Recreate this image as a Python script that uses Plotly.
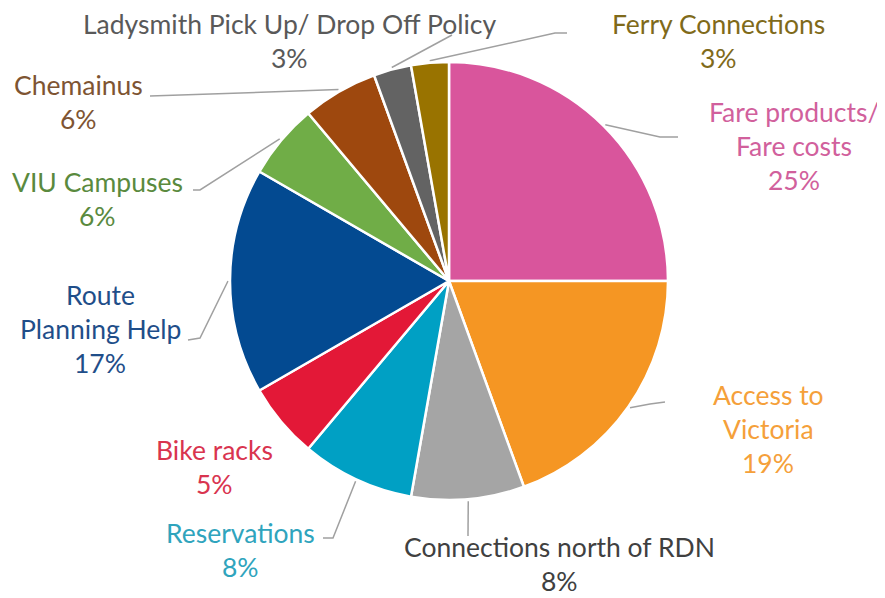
import numpy as np
import plotly.graph_objects as go

# survey topics, clockwise from 12 o'clock
topics = ["Fare products/ Fare costs", "Access to Victoria", "Connections north of RDN",
          "Reservations", "Bike racks", "Route Planning Help", "VIU Campuses",
          "Chemainus", "Ladysmith Pick Up/ Drop Off Policy", "Ferry Connections"]
responses = [9, 7, 3, 3, 2, 6, 2, 2, 1, 1]
pct_labels = ["25%", "19%", "8%", "8%", "5%", "17%", "6%", "6%", "3%", "3%"]
# how the labels wrap on the chart
label_lines = ["Fare products/\nFare costs", "Access to\nVictoria", "Connections north of RDN",
               "Reservations", "Bike racks", "Route\nPlanning Help", "VIU Campuses",
               "Chemainus", "Ladysmith Pick Up/ Drop Off Policy", "Ferry Connections"]

slice_colors = ["#D9559C", "#F59623", "#A5A5A5", "#00A0C4", "#E31837",
                "#034A91", "#70AD47", "#9E480E", "#636363", "#997300"]
text_colors = ["#D1609C", "#F5A03A", "#404040", "#2FA4BD", "#D9344F",
               "#1F4E89", "#5A8A3E", "#7E5432", "#595959", "#7F6A1A"]

# page body adds an 8px margin, so work in shifted pixel coords
OFF = 8
W, H = 885 - OFF, 598 - OFF
cx, cy, r = 449 - OFF, 281 - OFF, 219  # pie centre / radius

# label placement (reference pixels): centre x, y of first line
label_pos = [(794, 112), (768, 395), (559, 547), (240, 533), (214, 450),
             (100, 295), (97, 182), (78, 85), (289, 24), (718, 24)]
# leader line points after the slice edge
leader_pts = [[(660, 137), (678, 137)], [(650, 404), (665, 402)], [(468, 536)],
              [(333, 538), (323, 538)], [], [(200, 338), (188, 340)],
              [(200, 190), (193, 190)], [(150, 96)], [(452, 35)], [(555, 33), (567, 33)]]

fig = go.Figure()
fig.add_trace(go.Pie(
    labels=topics, values=responses, sort=False, direction="clockwise", rotation=0,
    marker=dict(colors=slice_colors, line=dict(color="white", width=2.5)),
    textinfo="none", hoverinfo="label+value", showlegend=False,
    domain=dict(x=[(cx - r) / W, (cx + r) / W], y=[(H - cy - r) / H, (H - cy + r) / H]),
))

# leader lines start at each slice's mid angle
vals = np.array(responses, dtype=float)
mids = (np.cumsum(vals) - vals / 2) / vals.sum() * 2 * np.pi
for i, pts in enumerate(leader_pts):
    if not pts:
        continue
    x0 = cx + (r + 2) * np.sin(mids[i])
    y0 = cy - (r + 2) * np.cos(mids[i])
    xs = [x0] + [p[0] - OFF for p in pts]
    ys = [y0] + [p[1] - OFF for p in pts]
    fig.add_trace(go.Scatter(x=xs, y=ys, mode="lines", line=dict(color="#A0A0A0", width=1.5),
                             hoverinfo="skip", showlegend=False))

line_gap = 34
for i, txt in enumerate(label_lines):
    lines = txt.split("\n") + [pct_labels[i]]
    x, y = label_pos[i]
    for k, ln in enumerate(lines):
        fig.add_annotation(x=x - OFF, y=y - OFF + k * line_gap, xref="x", yref="y", text=ln,
                           showarrow=False, xanchor="center", yanchor="middle", borderpad=0,
                           font=dict(family="Lato", size=26.5, color=text_colors[i]))

fig.update_layout(
    width=W, height=H, margin=dict(l=0, r=0, t=0, b=0),
    paper_bgcolor="white", plot_bgcolor="rgba(0,0,0,0)",
    xaxis=dict(range=[0, W], visible=False, domain=[0, 1], fixedrange=True),
    yaxis=dict(range=[H, 0], visible=False, domain=[0, 1], fixedrange=True),
)

fig.write_html("out.html")
